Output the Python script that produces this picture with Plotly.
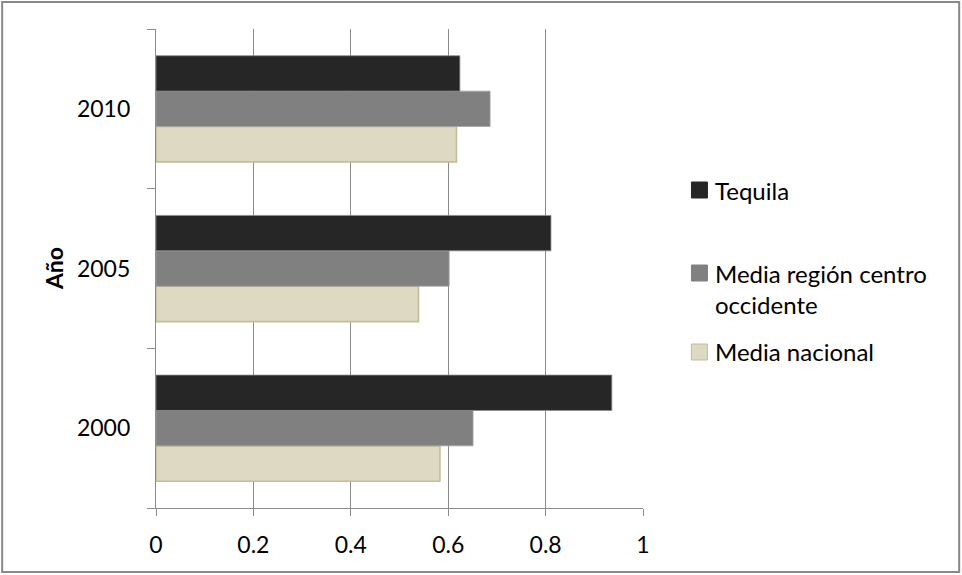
import plotly.graph_objects as go

# Data
years = ["2000", "2005", "2010"]
tequila = [0.936, 0.811, 0.624]
media_region = [0.651, 0.602, 0.686]
media_nacional = [0.583, 0.539, 0.617]

x_ticks = [0, 0.2, 0.4, 0.6, 0.8, 1]
x_tick_labels = ["0", "0.2", "0.4", "0.6", "0.8", "1"]

FONT = "Lato, 'Open Sans', sans-serif"
FS = 23
FS_LEGEND = 24
W, H = 962, 575
# plot area in pixels
L, R, T, B = 156, 643.5, 29, 508
PW, PH = R - L, B - T


def px_x(px):
    return (px - L) / PW


def px_y(py):
    return (B - py) / PH


fig = go.Figure()

# bottom-to-top drawing order inside each group
fig.add_trace(go.Bar(
    y=years, x=media_nacional, orientation="h", name="Media nacional",
    marker=dict(color="#DDD9C3", line=dict(color="#C4BD97", width=1.6)),
    showlegend=False,
))
fig.add_trace(go.Bar(
    y=years, x=media_region, orientation="h", name="Media región centro occidente",
    marker=dict(color="#808080", line=dict(color="#A6A6A6", width=0.8)),
    showlegend=False,
))
fig.add_trace(go.Bar(
    y=years, x=tequila, orientation="h", name="Tequila",
    marker=dict(color="#262626", line=dict(color="#8C8C8C", width=0.8)),
    showlegend=False,
))

shapes = []
annotations = []

# outer chart border
shapes.append(dict(
    type="rect", xref="paper", yref="paper",
    x0=px_x(2), x1=px_x(960), y0=px_y(2), y1=px_y(572),
    line=dict(color="#898989", width=2), fillcolor="rgba(0,0,0,0)", layer="below",
))

# legend
legend_items = [
    ("#262626", "#262626", 190, [["Tequila", 190]]),
    ("#808080", "#808080", 273, [["Media región centro", 273], ["occidente", 304]]),
    ("#DDD9C3", "#C4BD97", 352, [["Media nacional", 352]]),
]
for fill, edge, sy, lines in legend_items:
    shapes.append(dict(
        type="rect", xref="paper", yref="paper",
        x0=px_x(692), x1=px_x(708), y0=px_y(sy + 8), y1=px_y(sy - 8),
        fillcolor=fill, line=dict(color=edge, width=1),
    ))
    for t, ty in lines:
        annotations.append(dict(
            text=t, xref="paper", yref="paper", x=px_x(714), y=px_y(ty),
            xanchor="left", yanchor="middle", showarrow=False,
            font=dict(family=FONT, size=FS_LEGEND, color="#000000"),
        ))

# y-axis title
annotations.append(dict(
    text="<b>Año</b>", xref="paper", yref="paper", x=px_x(54), y=px_y(269),
    xanchor="center", yanchor="middle", textangle=-90, showarrow=False,
    font=dict(family=FONT, size=FS, color="#000000"),
))

fig.update_layout(
    width=W, height=H,
    margin=dict(l=L, r=W - R, t=T, b=H - B, pad=0),
    paper_bgcolor="white", plot_bgcolor="white",
    barmode="group", bargap=0.335, bargroupgap=0,
    showlegend=False,
    font=dict(family=FONT, size=FS, color="#000000"),
    shapes=shapes, annotations=annotations,
    xaxis=dict(
        range=[0, 1], tickvals=x_ticks, ticktext=x_tick_labels,
        showgrid=True, gridcolor="#8C8C8C", gridwidth=1.3,
        showline=True, linecolor="#8C8C8C", linewidth=1.3,
        ticks="outside", ticklen=7, tickcolor="#8C8C8C", tickwidth=1.3,
        ticklabelstandoff=9, zeroline=False, fixedrange=True,
    ),
    yaxis=dict(
        type="category", categoryorder="array", categoryarray=years,
        range=[-0.5, 2.5],
        showline=True, linecolor="#8C8C8C", linewidth=1.3,
        ticks="outside", ticklen=8, tickcolor="#8C8C8C", tickwidth=1.3,
        tickson="boundaries", ticklabelstandoff=20,
        showgrid=False, zeroline=False, fixedrange=True,
    ),
)

fig.write_html("out.html")
